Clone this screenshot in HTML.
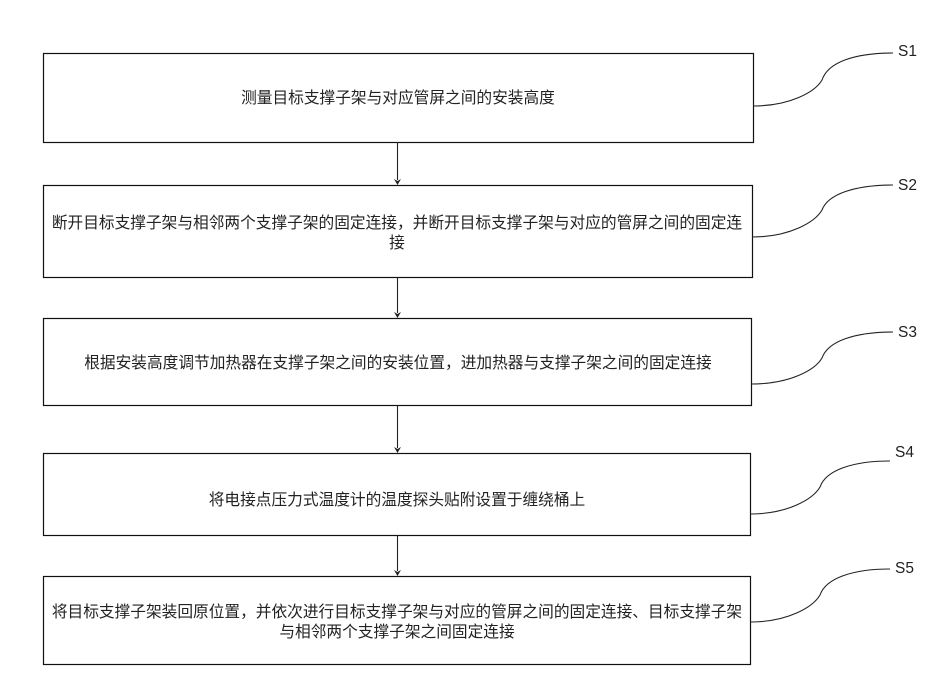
<!DOCTYPE html>
<html><head><meta charset="utf-8"><style>
html,body{margin:0;padding:0;background:#fff}
svg{display:block}
text{font-family:"Liberation Sans","Noto Sans CJK SC",sans-serif;fill:#222;text-anchor:middle;font-size:15.7px}
.s{font-size:15.5px;text-anchor:start}
rect{fill:#fff;stroke:#111;stroke-width:1.2}
.l{fill:none;stroke:#222;stroke-width:1.1}
.a{fill:#222}
</style></head><body>
<svg width="933" height="693" viewBox="0 0 933 693" xmlns="http://www.w3.org/2000/svg">
<rect x="43.5" y="53.5" width="710" height="89"/>
<rect x="43.5" y="185.5" width="709" height="92"/>
<rect x="43.5" y="318.5" width="708" height="87"/>
<rect x="43.5" y="453.5" width="707" height="82"/>
<rect x="43.5" y="576.5" width="707" height="88"/>

<path class="l" d="M397.5 142V180M397.5 277V313M397.5 405V448M397.5 535V571"/>
<path class="a" d="M397.5 185l-3.5-6 3.500 2 3.500-2zM397.500 318l-3.500-6 3.500 2 3.500-2zM397.500 453l-3.500-6 3.500 2 3.500-2zM397.500 576l-3.500-6 3.500 2 3.500-2z"/>

<path class="l" d="M753 106C790 106 815 92 822 80C828 62 855 53 893 53"/>
<path class="l" d="M752 237C790 237 815 222 822 210C828 194 855 185 893 185"/>
<path class="l" d="M751 384C790 384 815 370 822 358C828 341 855 332 893 332"/>
<path class="l" d="M750 514C788 514 813 499 820 487C826 470 853 461 890 461"/>
<path class="l" d="M750 622C788 622 813 607 820 595C826 578 853 569 890 569"/>

<text class="s" x="898" y="56">S1</text>
<text class="s" x="898" y="190">S2</text>
<text class="s" x="898" y="337">S3</text>
<text class="s" x="895" y="457">S4</text>
<text class="s" x="895" y="573">S5</text>

<text x="398" y="103">测量目标支撑子架与对应管屏之间的安装高度</text>
<text x="397" y="228">断开目标支撑子架与相邻两个支撑子架的固定连接，并断开目标支撑子架与对应的管屏之间的固定连</text>
<text x="397" y="248">接</text>
<text x="398" y="368">根据安装高度调节加热器在支撑子架之间的安装位置，进加热器与支撑子架之间的固定连接</text>
<text x="397" y="505">将电接点压力式温度计的温度探头贴附设置于缠绕桶上</text>
<text x="397" y="617">将目标支撑子架装回原位置，并依次进行目标支撑子架与对应的管屏之间的固定连接、目标支撑子架</text>
<text x="397" y="637">与相邻两个支撑子架之间固定连接</text>
</svg>
</body></html>
